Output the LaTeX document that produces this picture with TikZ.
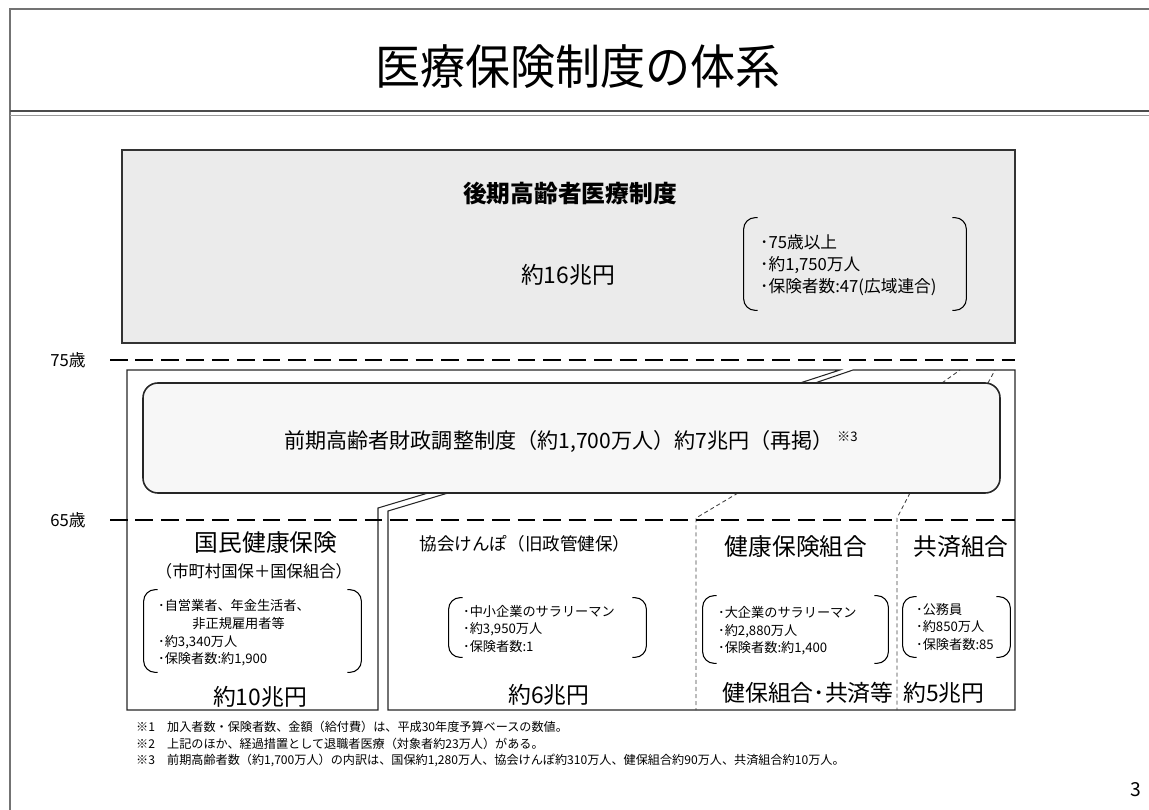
\documentclass[tikz,border=0pt]{standalone}
\usepackage{fontspec}
\setmainfont{Noto Sans CJK JP}
\newfontfamily\titlefont[FakeStretch=0.95]{Noto Sans CJK JP}
\usetikzlibrary{fit,positioning}

% left and right round brackets around a fitted node
\newcommand\parens[1]{%
  \draw[bracket] ([xshift=8pt]#1.north west) -- (#1.north west) -- (#1.south west) -- ([xshift=8pt]#1.south west);
  \draw[bracket] ([xshift=-8pt]#1.north east) -- (#1.north east) -- (#1.south east) -- ([xshift=-8pt]#1.south east);}

\begin{document}
\begin{tikzpicture}[x=0.02cm,y=-0.02cm,
  pageline/.style={draw=black!55,line width=0.6pt},
  ageline/.style={line width=1.7pt,dash pattern=on 10pt off 4.5pt},
  agetext/.style={font=\fontsize{9.5}{10}\selectfont},
  region/.style={draw=black!85,line width=0.6pt},
  splitline/.style={draw=black!75,line width=0.5pt,dash pattern=on 2.3pt off 1.7pt},
  area/.style={fit={#1},inner sep=0pt},
  bracket/.style={line width=0.6pt,rounded corners=6.5pt},
  heading/.style={font=\fontsize{13.5}{14}\selectfont},
  amount/.style={font=\fontsize{13}{14}\selectfont},
  items/.style={anchor=west,align=left,font=\fontsize{7.5}{10}\selectfont},
]
\useasboundingbox (0,0) rectangle (1149,810);

% page frame
\draw[pageline] (10,810) -- (10,9) -- (1149,9);
\draw[draw=black!70,line width=1.5pt] (10,111) -- (1149,111);
\draw[pageline,draw=black!40] (10,115.5) -- (1149,115.5);
\node[font=\titlefont\fontsize{27}{29}\selectfont] (title) at (578,67) {医療保険制度の体系};

% 75 and over
\node[area={(122,150) (1015,343)},draw=black!80,fill=black!8,line width=1.1pt] (late) {};
\node[font=\bfseries\fontsize{13.5}{15}\selectfont] (lateName) at (570,193) {後期高齢者医療制度};
\node[font=\fontsize{13}{14}\selectfont] (lateSum) at (568,275) {約16兆円};
\node[area={(744,218) (966,310)}] (lateBr) {};
\parens{lateBr}
\node[items,font=\fontsize{9.5}{12.5}\selectfont] (lateItems) at (754,265) {･75歳以上\\･約1,750万人\\･保険者数:47(広域連合)};

% insurer areas
\draw[region] (800,383) -- (840,370) -- (127,370) -- (127,710) -- (378,710) -- (378,508) -- (428,493);
\draw[region] (815,383) -- (853,370) -- (1015,370) -- (1015,710) -- (388,710) -- (388,511) -- (448,493);
\draw[splitline] (738,493) -- (696,518) -- (696,710);
\draw[splitline] (910,493) -- (897,518) -- (897,710);
\draw[splitline] (942,383) -- (960,370);
\draw[splitline] (988,383) -- (995,370);

% age lines
\node[agetext] (age75) at (68,360) {75歳};
\node[agetext] (age65) at (68,520) {65歳};
\draw[ageline] (110,360) -- (1015,360);
\draw[ageline] (110,520) -- (1015,520);

% 65 to 74
\node[area={(143,383) (1000,493)},draw=black!85,fill=black!3,line width=0.9pt,rounded corners=8.5pt] (zenki) {};
\node[font=\fontsize{12}{14}\selectfont] (zenkiText) at (571,441) {前期高齢者財政調整制度（約1,700万人）約7兆円（再掲）\,\raisebox{0.55ex}{\fontsize{7.5}{8}\selectfont ※3}};

% under 65
\node[heading] (kokuho) at (266,543) {国民健康保険};
\node[font=\fontsize{9.3}{11}\selectfont] (kokuhoSub) at (254,571) {（市町村国保＋国保組合）};
\node[area={(144,590) (361,672)}] (kokuhoBr) {};
\parens{kokuhoBr}
\node[items] (kokuhoItems) at (152,633) {･自営業者、年金生活者、\\\hspace{2.6em}非正規雇用者等\\･約3,340万人\\･保険者数:約1,900};
\node[amount] (kokuhoSum) at (260,697) {約10兆円};

\node[font=\fontsize{10}{12}\selectfont] (kyokai) at (525,544) {協会けんぽ（旧政管健保）};
\node[area={(449,598) (646,657)}] (kyokaiBr) {};
\parens{kyokaiBr}
\node[items] (kyokaiItems) at (457,629) {･中小企業のサラリーマン\\･約3,950万人\\･保険者数:1};
\node[amount] (kyokaiSum) at (549,695) {約6兆円};

\node[heading] (kenpo) at (796,547) {健康保険組合};
\node[heading] (kyosai) at (961,547) {共済組合};
\node[area={(703,596) (888,663)}] (kenpoBr) {};
\parens{kenpoBr}
\node[items] (kenpoItems) at (712,631) {･大企業のサラリーマン\\･約2,880万人\\･保険者数:約1,400};
\node[area={(903,597) (1010,657)}] (kyosaiBr) {};
\parens{kyosaiBr}
\node[items] (kyosaiItems) at (910,627) {･公務員\\･約850万人\\･保険者数:85};
\node[amount] (kenpoSum) at (808,693) {健保組合･共済等};
\node[amount] (kyosaiSum) at (944,693) {約5兆円};

% notes
\node[anchor=west,align=left,font=\fontsize{6.9}{9.6}\selectfont] (notes) at (130,744) {※1　加入者数・保険者数、金額（給付費）は、平成30年度予算ベースの数値。\\※2　上記のほか、経過措置として退職者医療（対象者約23万人）がある。\\※3　前期高齢者数（約1,700万人）の内訳は、国保約1,280万人、協会けんぽ約310万人、健保組合約90万人、共済組合約10万人。};
\node[font=\fontsize{11}{12}\selectfont] (pageNo) at (1136,790) {3};
\end{tikzpicture}
\end{document}
